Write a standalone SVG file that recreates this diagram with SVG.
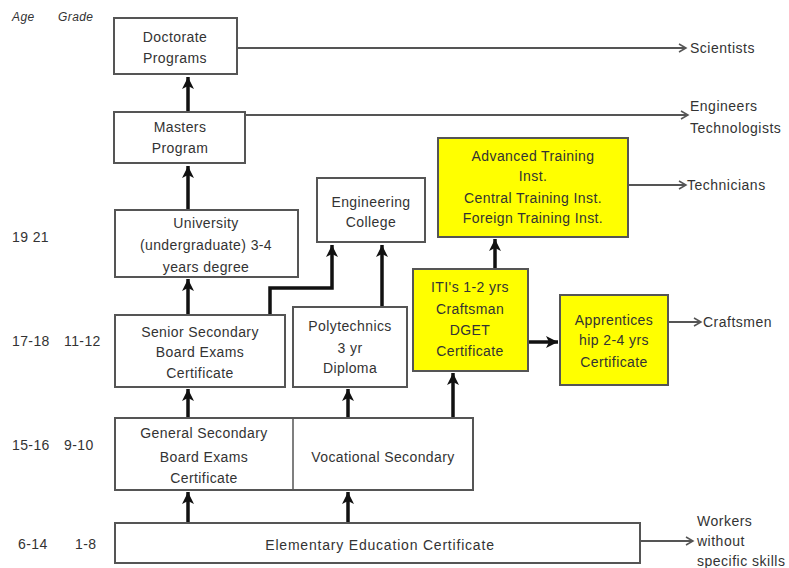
<svg xmlns="http://www.w3.org/2000/svg" width="789" height="568" viewBox="0 0 789 568">
<style>
text{font-family:"Liberation Sans",Arial,sans-serif;font-size:14px;fill:#333;letter-spacing:0.4px}
.c{text-anchor:middle}
.s{font-size:14px;letter-spacing:0.5px}
.box{fill:#fff;stroke:#555;stroke-width:2}
.yel{fill:#ffff00;stroke:#555;stroke-width:2}
.thin{fill:none;stroke:#555;stroke-width:2}
.thick{fill:none;stroke:#111;stroke-width:3.5}
.it{font-style:italic;font-size:12px}
</style>
<defs>
<marker id="open" markerWidth="10" markerHeight="10" refX="8" refY="5" orient="auto" markerUnits="userSpaceOnUse">
<path d="M1,1 L8,5 L1,9" fill="none" stroke="#555" stroke-width="1.5"/>
</marker>
<marker id="solid" markerWidth="14" markerHeight="14" refX="12" refY="7" orient="auto" markerUnits="userSpaceOnUse">
<path d="M0,1 L12,7 L0,13 L3,7 Z" fill="#111"/>
</marker>
</defs>
<rect width="789" height="568" fill="#fff"/>
<g id="axis">
<text class="it" x="12" y="21">Age</text>
<text class="it" x="58" y="21">Grade</text>
<text x="12" y="242">19 21</text>
<text x="12" y="346">17-18</text>
<text x="64" y="346">11-12</text>
<text x="12" y="450">15-16</text>
<text x="64" y="450">9-10</text>
<text x="18" y="549">6-14</text>
<text x="75" y="549">1-8</text>
</g>
<g id="connectors">
<path class="thin" d="M237,48 H686" marker-end="url(#open)"/>
<path class="thin" d="M245,115 H688" marker-end="url(#open)"/>
<path class="thin" d="M628,185 H686" marker-end="url(#open)"/>
<path class="thin" d="M668,322 H701" marker-end="url(#open)"/>
<path class="thin" d="M640,541 H693" marker-end="url(#open)"/>
<path class="thick" d="M188,112 V77" marker-end="url(#solid)"/>
<path class="thick" d="M188,210 V166" marker-end="url(#solid)"/>
<path class="thick" d="M188,315 V279" marker-end="url(#solid)"/>
<path class="thick" d="M270,315 V288 H332 V245" marker-end="url(#solid)"/>
<path class="thick" d="M382,307 V245" marker-end="url(#solid)"/>
<path class="thick" d="M495,269 V239" marker-end="url(#solid)"/>
<path class="thick" d="M528,342 H558" marker-end="url(#solid)"/>
<path class="thick" d="M188,418 V389" marker-end="url(#solid)"/>
<path class="thick" d="M348,418 V389" marker-end="url(#solid)"/>
<path class="thick" d="M453,418 V373" marker-end="url(#solid)"/>
<path class="thick" d="M188,523 V492" marker-end="url(#solid)"/>
<path class="thick" d="M348,523 V492" marker-end="url(#solid)"/>
</g>
<g id="doctorate">
<rect class="box" x="114" y="18" width="123" height="56"/>
<text class="c" x="175" y="42">Doctorate</text>
<text class="c" x="175" y="63">Programs</text>
</g>
<g id="masters">
<rect class="box" x="114" y="112" width="131" height="51"/>
<text class="c" x="180" y="132">Masters</text>
<text class="c" x="180" y="153">Program</text>
</g>
<g id="university">
<rect class="box" x="115" y="210" width="183" height="67"/>
<text class="c" x="206" y="228">University</text>
<text class="c" x="206" y="250">(undergraduate) 3-4</text>
<text class="c" x="206" y="272">years degree</text>
</g>
<g id="senior">
<rect class="box" x="115" y="315" width="170" height="72"/>
<text class="c" x="200" y="337">Senior Secondary</text>
<text class="c" x="200" y="357">Board Exams</text>
<text class="c" x="200" y="378">Certificate</text>
</g>
<g id="engcollege">
<rect class="box" x="317" y="178" width="108" height="64"/>
<text class="c" x="371" y="207">Engineering</text>
<text class="c" x="371" y="227">College</text>
</g>
<g id="polytechnics">
<rect class="box" x="293" y="307" width="114" height="80"/>
<text class="c" x="350" y="331">Polytechnics</text>
<text class="c" x="350" y="353">3 yr</text>
<text class="c" x="350" y="373">Diploma</text>
</g>
<g id="advanced">
<rect class="yel" x="438" y="138" width="190" height="99"/>
<text class="c" x="533" y="161">Advanced  Training</text>
<text class="c" x="533" y="181">Inst.</text>
<text class="c" x="533" y="203">Central Training  Inst.</text>
<text class="c" x="533" y="223">Foreign  Training  Inst.</text>
</g>
<g id="iti">
<rect class="yel" x="413" y="269" width="115" height="102"/>
<text class="c" x="470" y="292">ITI's 1-2 yrs</text>
<text class="c" x="470" y="314">Craftsman</text>
<text class="c" x="470" y="335">DGET</text>
<text class="c" x="470" y="356">Certificate</text>
</g>
<g id="apprentice">
<rect class="yel" x="560" y="295" width="108" height="90"/>
<text class="c" x="614" y="325">Apprentices</text>
<text class="c" x="614" y="345">hip  2-4 yrs</text>
<text class="c" x="614" y="367">Certificate</text>
</g>
<g id="secondary">
<rect class="box" x="115" y="418" width="358" height="72"/>
<line x1="293" y1="418" x2="293" y2="490" stroke="#555" stroke-width="1.5"/>
<text class="c" x="204" y="438">General Secondary</text>
<text class="c" x="204" y="462">Board  Exams</text>
<text class="c" x="204" y="483">Certificate</text>
<text class="c" x="383" y="462">Vocational  Secondary</text>
</g>
<g id="elementary">
<rect class="box" x="115" y="523" width="525" height="40"/>
<text class="c" x="380" y="550" style="letter-spacing:0.8px">Elementary  Education Certificate</text>
</g>
<g id="outcomes">
<text class="s" x="690" y="53">Scientists</text>
<text class="s" x="690" y="111">Engineers</text>
<text class="s" x="690" y="133">Technologists</text>
<text class="s" x="687" y="190">Technicians</text>
<text class="s" x="703" y="327">Craftsmen</text>
<text class="s" x="697" y="526">Workers</text>
<text class="s" x="697" y="546">without</text>
<text class="s" x="697" y="566">specific skills</text>
</g>
</svg>
